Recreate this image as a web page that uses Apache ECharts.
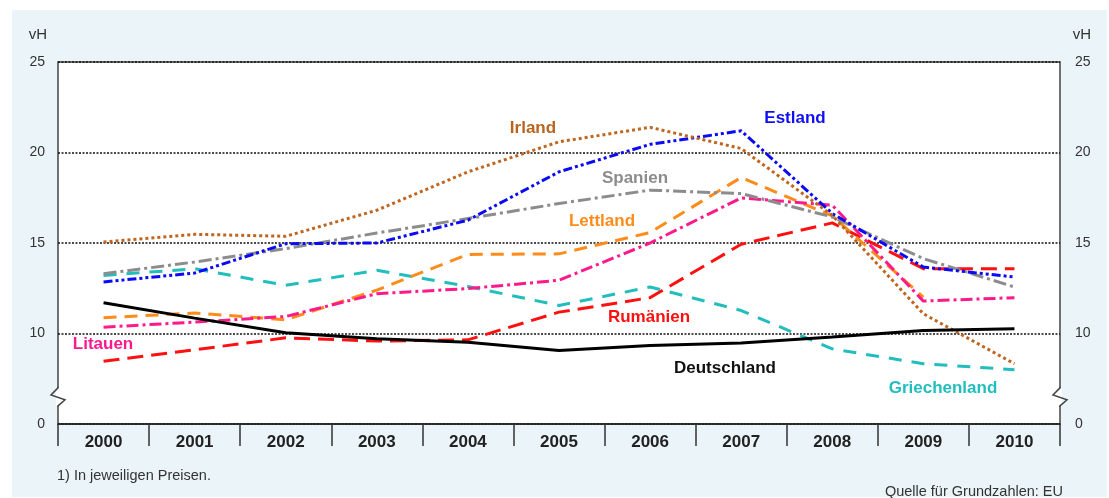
<!DOCTYPE html>
<html><head><meta charset="utf-8">
<script src="https://cdn.jsdelivr.net/npm/echarts@6/dist/echarts.min.js"></script>
<style>html,body{margin:0;padding:0;background:#fff;}#c{width:1109px;height:498px;}</style>
</head><body><div id="c"></div>
<script>
const years = ['2000','2001','2002','2003','2004','2005','2006','2007','2008','2009','2010'];
const irland       = [15.05, 15.48, 15.37, 16.81, 18.93, 20.59, 21.39, 20.22, 16.53, 11.09, 8.33];
const estland      = [12.85, 13.34, 14.96, 15.0, 16.26, 18.93, 20.45, 21.2, 16.63, 13.67, 13.12];
const spanien      = [13.3, 13.95, 14.69, 15.55, 16.35, 17.18, 17.92, 17.73, 16.44, 14.14, 12.57];
const lettland     = [10.87, 11.13, 10.76, 12.4, 14.37, 14.4, 15.58, 18.62, 16.5, 12.01, null];
const litauen      = [10.35, 10.63, 10.94, 12.2, 12.48, 12.94, 15.0, 17.49, 17.09, 11.79, 11.98];
const rumaenien    = [8.47, 9.1, 9.76, 9.58, 9.65, 11.18, 11.98, 14.93, 16.11, 13.58, 13.58];
const griechenland = [13.2, 13.58, 12.66, 13.49, 12.6, 11.55, 12.57, 11.27, 9.15, 8.33, 8.0];
const deutschland  = [11.7, 10.85, 10.04, 9.71, 9.52, 9.06, 9.34, 9.47, 9.8, 10.17, 10.26];
const yTicks = {5:'0', 10:'10', 15:'15', 20:'20', 25:'25'};

const chart = echarts.init(document.getElementById('c'), null, {renderer:'canvas'});
const GL = 58, GRW = 49, GT = 62, GB = 74;
const GRX = 1109 - GRW;

function ln(name, data, color, dash, width, z) {
  return {name, type:'line', data, symbol:'none', smooth:false, z: z||2,
    lineStyle:{color, width: width||3, type: dash, cap:'butt'}, connectNulls:false};
}
const yCommon = {type:'value', min:5, max:25, interval:5,
  axisLine:{show:false}, axisTick:{show:false},
  axisLabel:{formatter:v=>yTicks[v]||'', color:'#333', fontSize:14, fontFamily:'Liberation Sans, Arial'},
};
const lbl = (text, x, y, color, extra) => Object.assign({type:'text', x, y, z:100,
  style:{text, fill:color, font:'bold 17px "Liberation Sans", Arial', textAlign:'center', textVerticalAlign:'middle'}}, extra||{});

chart.setOption({
  backgroundColor:'#fff',
  animation:false,
  grid:{left:GL, right:GRW, top:GT, bottom:GB, show:true, backgroundColor:'#fff', borderColor:'#444', borderWidth:1.5},
  xAxis:{type:'category', data:years, boundaryGap:true,
    axisLine:{lineStyle:{color:'#222', width:1.5}},
    axisTick:{show:true, length:22, lineStyle:{color:'#333', width:1.5}},
    axisLabel:{color:'#222', fontWeight:'bold', fontSize:17, margin:10, fontFamily:'Liberation Sans, Arial'}},
  yAxis:[
    Object.assign({}, yCommon, {position:'left', axisLabel:Object.assign({}, yCommon.axisLabel, {margin:13}),
      splitLine:{show:true, lineStyle:{color:'#111', width:1.5, type:[2,1.5]}}}),
    Object.assign({}, yCommon, {position:'right', axisLabel:Object.assign({}, yCommon.axisLabel, {margin:15}),
      splitLine:{show:false}})
  ],
  series:[
    ln('Griechenland', griechenland, '#22BDBD', [13,10], 3),
    ln('Rumänien', rumaenien, '#FF1010', [16,8], 3),
    ln('Lettland', lettland, '#FF8C1A', [13,8], 3),
    ln('Litauen', litauen, '#FF1A8C', [12,4,3,4], 3),
    ln('Spanien', spanien, '#8C8C8C', [13,4,3,4], 3),
    ln('Estland', estland, '#0A0AF5', [9,3,3,3,3,3], 3),
    ln('Irland', irland, '#C0651F', [3,3], 3),
    ln('Deutschland', deutschland, '#000000', 'solid', 3, 3)
  ]
});

const yc = chart.convertToPixel({yAxisIndex:0}, 6.5);
function zig(x0){
  return [
    {type:'rect', z:50, shape:{x:x0-2, y:yc-9, width:4, height:18}, style:{fill:'#fff'}},
    {type:'polyline', z:51, shape:{points:[[x0,yc-10],[x0,yc-9],[x0-7,yc-2],[x0+7,yc+3],[x0,yc+9],[x0,yc+10]]},
      style:{stroke:'#444', lineWidth:1.5, fill:null}}
  ];
}
chart.setOption({graphic:[
  {type:'rect', z:-100, shape:{x:12, y:10, width:1095, height:487}, style:{fill:'#EBF4F8'}},
  ...zig(GL), ...zig(GRX),
  {type:'text', x:38, y:35, z:100, style:{text:'vH', fill:'#333', font:'15px "Liberation Sans", Arial', textAlign:'center', textVerticalAlign:'middle'}},
  {type:'text', x:1082, y:35, z:100, style:{text:'vH', fill:'#333', font:'15px "Liberation Sans", Arial', textAlign:'center', textVerticalAlign:'middle'}},
  {type:'text', x:57, y:476, z:100, style:{text:'1) In jeweiligen Preisen.', fill:'#333', font:'14.5px "Liberation Sans", Arial', textAlign:'left', textVerticalAlign:'middle'}},
  {type:'text', x:1063, y:492, z:100, style:{text:'Quelle für Grundzahlen: EU', fill:'#333', font:'14.5px "Liberation Sans", Arial', textAlign:'right', textVerticalAlign:'middle'}},
  lbl('Irland', 533, 128, '#B8651F'),
  lbl('Estland', 795, 118, '#1010F0'),
  lbl('Spanien', 635, 178, '#8C8C8C'),
  lbl('Lettland', 602, 221, '#FF8C1A'),
  lbl('Rumänien', 649, 317, '#FF1010'),
  lbl('Deutschland', 725, 368, '#111'),
  lbl('Griechenland', 943, 388, '#22BDBD'),
  {type:'text', x:103, y:344, z:100, style:{text:'Litauen', fill:'#FF1A8C', font:'bold 17px "Liberation Sans", Arial', textAlign:'center', textVerticalAlign:'middle', backgroundColor:'#fff', padding:[0,6,0,6]}}
]});
</script></body></html>
